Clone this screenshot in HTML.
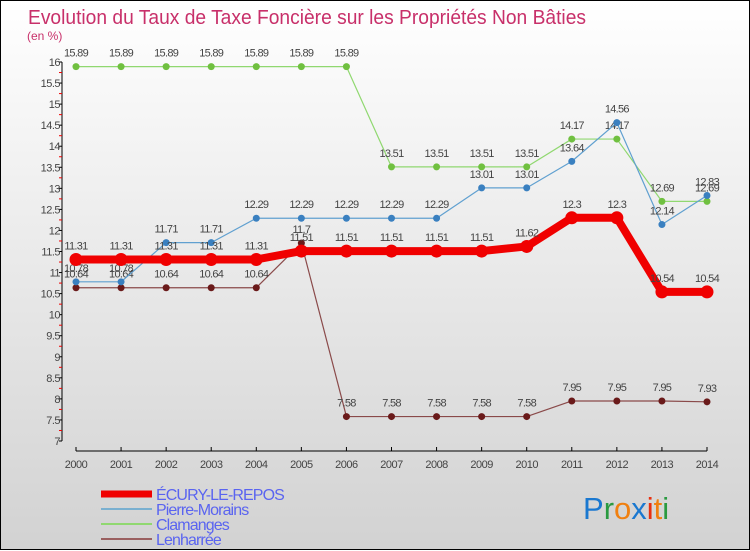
<!DOCTYPE html>
<html><head><meta charset="utf-8"><style>
html,body{margin:0;padding:0}
body{width:750px;height:550px;overflow:hidden}
#wrap{position:relative;width:748px;height:548px;border:1px solid #000;background:linear-gradient(#fff,#d2d2d2)}
svg{position:absolute;left:0;top:0}
text{font-family:"Liberation Sans",sans-serif}
</style></head><body>
<div id="wrap">
<svg id="chart" width="750" height="550"></svg>
</div>
<script>
const years=[2000,2001,2002,2003,2004,2005,2006,2007,2008,2009,2010,2011,2012,2013,2014];
const ecury=[11.31,11.31,11.31,11.31,11.31,11.51,11.51,11.51,11.51,11.51,11.62,12.3,12.3,10.54,10.54];
const pierre=[10.78,10.78,11.71,11.71,12.29,12.29,12.29,12.29,12.29,13.01,13.01,13.64,14.56,12.14,12.83];
const clamanges=[15.89,15.89,15.89,15.89,15.89,15.89,15.89,13.51,13.51,13.51,13.51,14.17,14.17,12.69,12.69];
const lenharree=[10.64,10.64,10.64,10.64,10.64,11.7,7.58,7.58,7.58,7.58,7.58,7.95,7.95,7.95,7.93];
const yTicks=[7,7.5,8,8.5,9,9.5,10,10.5,11,11.5,12,12.5,13,13.5,14,14.5,15,15.5,16];
const seriesNames=["ÉCURY-LE-REPOS","Pierre-Morains","Clamanges","Lenharrée"];

const svg=document.getElementById('chart');const NS='http://www.w3.org/2000/svg';
function el(t,a,p){const e=document.createElementNS(NS,t);for(const k in a)e.setAttribute(k,a[k]);(p||svg).appendChild(e);return e;}
const x=i=>75+i*(706-75)/(years.length-1);
const y=v=>61+(16-v)*(440-61)/9;

let t=el('text',{x:27,y:23,fill:'#c8306a','font-size':20,textLength:558,lengthAdjust:'spacingAndGlyphs'});
t.textContent='Evolution du Taux de Taxe Foncière sur les Propriétés Non Bâties';
t=el('text',{x:26,y:39,fill:'#c8306a','font-size':12});
t.textContent='(en %)';

const ya=el('g',{});
el('line',{x1:61,y1:y(16),x2:61,y2:y(7),stroke:'#000'},ya);
yTicks.forEach((v,i)=>{
  el('line',{x1:58,x2:61,y1:y(v),y2:y(v),stroke:'#000'},ya);
  if(i<yTicks.length-1) el('line',{x1:58,x2:61,y1:y(v+0.25),y2:y(v+0.25),stroke:'#e00'},ya);
  const l=el('text',{x:59,y:y(v)+4,'text-anchor':'end','font-size':11,fill:'#444','letter-spacing':'-0.5'},ya);
  l.textContent=String(v);
});
const xa=el('g',{});
el('line',{x1:x(0),x2:x(years.length-1),y1:450,y2:450,stroke:'#000'},xa);
years.forEach((yr,i)=>{
  el('line',{x1:x(i),x2:x(i),y1:446,y2:450,stroke:'#000'},xa);
  const l=el('text',{x:x(i),y:467,'text-anchor':'middle','font-size':11,fill:'#444','letter-spacing':'-0.5'},xa);
  l.textContent=yr;
});
function series(data,color,w,r,dot,name){
  const g=el('g',{});
  el('polyline',{points:data.map((v,i)=>x(i)+','+y(v)).join(' '),fill:'none',stroke:color,'stroke-width':w,'stroke-linejoin':'round'},g);
  data.forEach((v,i)=>{
    const c=el('circle',{cx:x(i),cy:y(v),r:r,fill:dot},g);
    
    const l=el('text',{x:x(i),y:y(v)-10,'text-anchor':'middle','font-size':11,fill:'#444','letter-spacing':'-0.7'},g);
    l.textContent=String(v);
  });
}
series(lenharree,'#8a4a4a',1.2,3.5,'#6a1a1a','series-lenharree');
series(clamanges,'#90d870',1.2,3.5,'#70c040','series-clamanges');
series(pierre,'#60a0d0',1.2,3.5,'#3a80c0','series-pierre-morains');
series(ecury,'#f00000',8,6.5,'#f00000','series-ecury-le-repos');

const lc=['#f00000','#7ab0d0','#90d870','#9a6060'],lw=[7,2,2,2];
seriesNames.forEach((n,i)=>{
  const g=el('g',{});
  const yy=493+i*15;
  el('line',{x1:100,x2:151,y1:yy,y2:yy,stroke:lc[i],'stroke-width':lw[i]},g);
  const l=el('text',{x:155,y:yy+6,'font-size':16,fill:'#5a64f0','letter-spacing':'-0.9'},g);l.textContent=n;
});
const lg=el('text',{x:582,y:518,'font-size':31,'font-family':'Liberation Sans'});

[['P','#1a78d0'],['r','#2a9a40'],['o','#f08010'],['x','#1a78d0'],['i','#e83010'],['t','#f08010'],['i','#2a9a40']].forEach(([c,f])=>{const s=el('tspan',{fill:f},lg);s.textContent=c;});
</script>
</body></html>
